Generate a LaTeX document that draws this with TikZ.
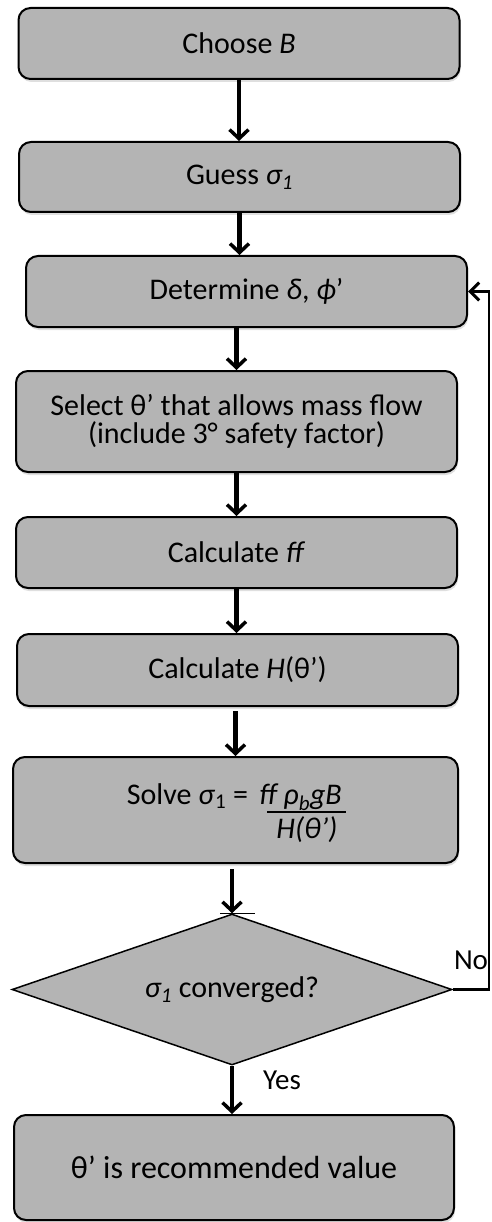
\documentclass[tikz,border=0pt]{standalone}
\usepackage{fontspec}
\setmainfont{Carlito}
\usetikzlibrary{shapes.geometric,arrows.meta,shadows}
\definecolor{boxgray}{RGB}{180,180,180}
\begin{document}
\begin{tikzpicture}[x=1pt,y=-1pt,
  stepbox/.style={draw=black, line width=2pt, fill=boxgray, rounded corners=12pt,
    minimum width=441pt, inner sep=0pt, align=center,
    font=\fontsize{30}{28}\selectfont,
    drop shadow={shadow xshift=1pt, shadow yshift=-3pt, opacity=0.25}},
  decbox/.style={draw=black, line width=1.5pt, fill=boxgray, diamond, aspect=2.91,
    minimum width=440pt, minimum height=151pt, inner sep=0pt,
    font=\fontsize{30}{28}\selectfont},
  arr/.style={line width=4.5pt, -{Straight Barb[length=9pt,width=19pt,line width=3.5pt]}},
  looparr/.style={line width=2.5pt, -{Straight Barb[length=9pt,width=18pt,line width=3pt]}},
  lbl/.style={font=\fontsize{29}{29}\selectfont, inner sep=0pt},
  txt/.style={font=\fontsize{30}{28}\selectfont, inner sep=0pt}
]
\useasboundingbox (0,0) rectangle (491,1222);

\node[stepbox, minimum height=71pt] (b1) at (239,43.5) {Choose \textit{B}};
\node[stepbox, minimum height=70pt] (b2) at (239.5,177) {Guess \textit{σ\textsubscript{1}}};
\node[stepbox, minimum height=71pt] (b3) at (246.5,291.5) {Determine \textit{δ}, \textit{ϕ}’};
\node[stepbox, minimum height=101pt] (b4) at (236.5,421.5) {Select θ’ that allows mass flow\\(include 3° safety factor)};
\node[stepbox, minimum height=71pt] (b5) at (236.5,552.5) {Calculate \textit{ff}};
\node[stepbox, minimum height=72pt] (b6) at (237.5,670) {Calculate \textit{H}(θ’)};
\node[stepbox, minimum height=106pt, minimum width=445pt] (b7) at (235.5,810) {};
\node[txt, anchor=base] (solvel) at (187.5,804) {Solve \textit{σ}\textsubscript{1} =};
\node[txt, anchor=base] (num) at (300.5,804) {\textit{ff ρ\textsubscript{b}gB}};
\node[txt, anchor=base] (den) at (307,838) {\textit{H(θ’)}};
\draw[line width=2.5pt] (267,812) -- (346,812);

\node[decbox] (dia) at (232,989.5) {\textit{σ\textsubscript{1}} converged?};
\node[stepbox, minimum height=105pt, minimum width=440pt, font=\fontsize{32}{32}\selectfont] (b8) at (234,1167.5) {θ’ is recommended value};

\draw[arr] (b1.south) -- (b1.south |- b2.north);
\draw[arr] (b2.south) -- (b2.south |- b3.north);
\draw[arr] (b4.north |- b3.south) -- (b4.north);
\draw[arr] (b4.south) -- (b5.north);
\draw[arr] (b5.south) -- (b5.south |- b6.north);
\draw[arr, shorten <=4pt] (b7.north |- b6.south) -- (b7.north);
\draw[arr, shorten <=5pt] (dia.north |- b7.south) -- (dia.north);
\draw[line width=0.8pt] ([xshift=-12pt]dia.north) -- ([xshift=23pt]dia.north);
\draw[arr] (dia.south) -- (dia.south |- b8.north);

\coordinate (rt) at (489,0);
\draw[looparr] (dia.east) -| (rt |- b3.east) -- (b3.east);
\node[lbl] (no) at (471,960) {No};
\node[lbl] (yes) at (282,1080) {Yes};
\end{tikzpicture}
\end{document}
